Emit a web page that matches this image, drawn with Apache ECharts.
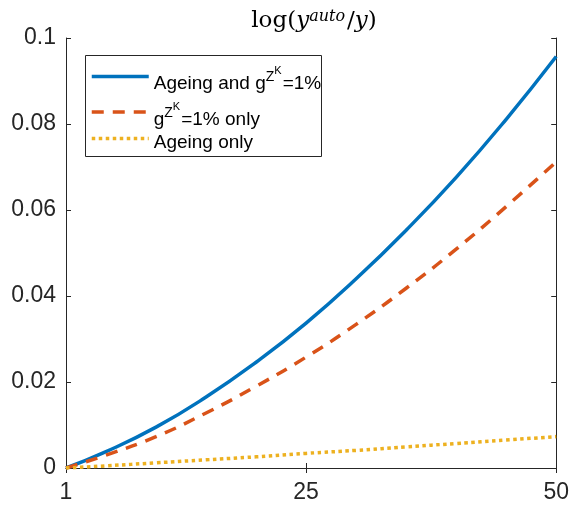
<!DOCTYPE html>
<html>
<head>
<meta charset="utf-8">
<script src="https://cdn.jsdelivr.net/npm/echarts@6/dist/echarts.min.js"></script>
<style>html,body{margin:0;padding:0;background:#fff}#c{width:572px;height:508px}</style>
</head>
<body>
<div id="c"></div>
<script>
var years = [1, 5, 10, 15, 20, 25, 30, 35, 40, 45, 50];
var ageingAndG = [0, 0.0038, 0.0095, 0.0165, 0.0246, 0.0337, 0.0440, 0.0553, 0.0676, 0.0811, 0.0957];
var gOnly = [0, 0.0030, 0.0073, 0.0128, 0.0190, 0.0258, 0.0334, 0.0418, 0.0509, 0.0608, 0.0712];
var ageingOnly = [0, 0.0005, 0.0012, 0.0019, 0.0026, 0.0034, 0.0041, 0.0049, 0.0057, 0.0065, 0.0073];
var xTicks = [1, 25, 50];
var seriesNames = ['Ageing and gZK=1%', 'gZK=1% only', 'Ageing only'];

function pairs(v) { return years.map(function (x, i) { return [x, v[i]]; }); }

var chart = echarts.init(document.getElementById('c'), null, {renderer: 'canvas'});
var axisColor = '#262626';
var sans = 'Liberation Sans, Arial, sans-serif';
var legendRich = {
  t1: {fontSize: 19, fontFamily: sans, color: '#000', verticalAlign: 'bottom', lineHeight: 33},
  t2: {fontSize: 19, fontFamily: sans, color: '#000', verticalAlign: 'bottom', lineHeight: 34},
  t3: {fontSize: 19, fontFamily: sans, color: '#000', verticalAlign: 'bottom', lineHeight: 28},
  z: {fontSize: 14, fontFamily: sans, color: '#000', verticalAlign: 'bottom', padding: [0, 0, 9, 0]},
  k: {fontSize: 11, fontFamily: sans, color: '#000', verticalAlign: 'bottom', padding: [0, 1, 17, 0]}
};
var legendFmt = {};
legendFmt[seriesNames[0]] = '{t1|Ageing and g}{z|Z}{k|K}{t1|=1%}';
legendFmt[seriesNames[1]] = '{t2|g}{z|Z}{k|K}{t2|=1% only}';
legendFmt[seriesNames[2]] = '{t3|Ageing only}';
var legendTops = [65, 101, 133];

function mkLegend(i) {
  return {
    orient: 'vertical', left: 90, top: legendTops[i], padding: 0,
    itemWidth: 57, itemHeight: 14, z: 10,
    itemStyle: {opacity: 0},
    lineStyle: {width: 3.5},
    data: [seriesNames[i]],
    formatter: function (n) { return legendFmt[n]; },
    textStyle: {rich: legendRich}
  };
}

var serif = 'DejaVu Serif, Liberation Serif, serif';
chart.setOption({
  animation: false,
  backgroundColor: '#fff',
  title: {
    text: '{r|log(}{i|y}{s|auto}{r|/}{i|y}{r|)}',
    left: 309, top: 4, textAlign: 'center',
    textStyle: {
      fontWeight: 'normal',
      rich: {
        r: {fontSize: 23, fontFamily: serif, fontWeight: 'normal', color: '#000', verticalAlign: 'bottom'},
        i: {fontSize: 23, fontFamily: serif, fontStyle: 'italic', fontWeight: 'normal', color: '#000', verticalAlign: 'bottom'},
        s: {fontSize: 16, fontFamily: serif, fontStyle: 'italic', fontWeight: 'normal', color: '#000', verticalAlign: 'bottom', padding: [0, 2, 8, 0]}
      }
    }
  },
  graphic: [{
    type: 'rect', z: 5,
    shape: {x: 85.5, y: 55.5, width: 236, height: 101},
    style: {fill: '#fff', stroke: axisColor, lineWidth: 1}
  }],
  legend: [mkLegend(0), mkLegend(1), mkLegend(2)],
  grid: {left: 66, right: 14, top: 38, bottom: 40, containLabel: false},
  xAxis: [{
    type: 'value', min: 1, max: 50, position: 'bottom',
    axisLine: {lineStyle: {color: axisColor, width: 1}},
    axisTick: {inside: true, length: 5, customValues: xTicks, lineStyle: {color: axisColor}},
    axisLabel: {customValues: xTicks, fontSize: 23, color: axisColor, margin: 13, fontFamily: sans},
    splitLine: {show: false}
  }, {
    type: 'value', min: 1, max: 50, position: 'top',
    axisLine: {lineStyle: {color: axisColor, width: 1}},
    axisTick: {inside: true, length: 5, customValues: xTicks, lineStyle: {color: axisColor}},
    axisLabel: {show: false},
    splitLine: {show: false}
  }],
  yAxis: [{
    type: 'value', min: 0, max: 0.1, interval: 0.02, position: 'left',
    axisLine: {show: true, lineStyle: {color: axisColor, width: 1}},
    axisTick: {show: true, inside: true, length: 5, lineStyle: {color: axisColor}},
    axisLabel: {fontSize: 23, color: axisColor, margin: 10, fontFamily: sans,
      formatter: function (v) { return String(parseFloat(v.toFixed(2))); }},
    splitLine: {show: false}
  }, {
    type: 'value', min: 0, max: 0.1, interval: 0.02, position: 'right',
    axisLine: {show: true, lineStyle: {color: axisColor, width: 1}},
    axisTick: {show: true, inside: true, length: 5, lineStyle: {color: axisColor}},
    axisLabel: {show: false},
    splitLine: {show: false}
  }],
  series: [{
    name: seriesNames[0], type: 'line', data: pairs(ageingAndG), smooth: true, symbol: 'none',
    lineStyle: {color: '#0072BD', width: 3.5}, itemStyle: {color: '#0072BD'}
  }, {
    name: seriesNames[1], type: 'line', data: pairs(gOnly), smooth: true, symbol: 'none',
    lineStyle: {color: '#D95319', width: 3.5, type: [12, 9]}, itemStyle: {color: '#D95319'}
  }, {
    name: seriesNames[2], type: 'line', data: pairs(ageingOnly), smooth: true, symbol: 'none',
    lineStyle: {color: '#EDB120', width: 3.5, type: [3.5, 3.5]}, itemStyle: {color: '#EDB120'}
  }]
});
</script>
</body>
</html>
